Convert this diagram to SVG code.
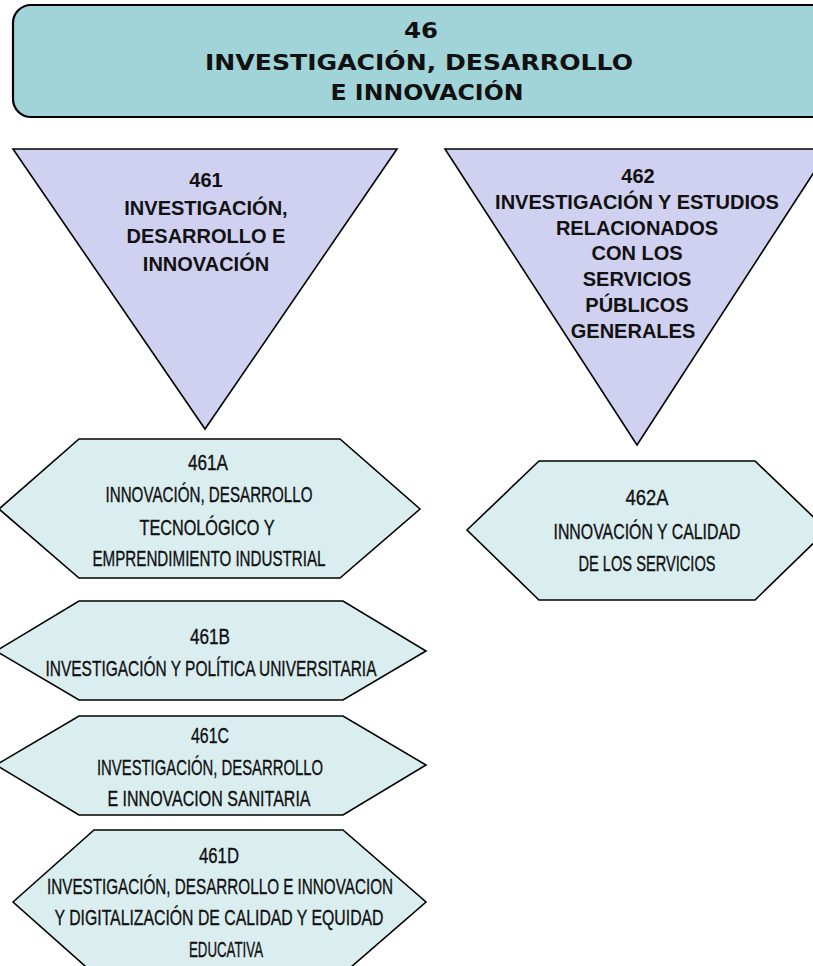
<svg xmlns="http://www.w3.org/2000/svg" width="813" height="966" viewBox="0 0 813 966">
<style>
.hdr{fill:#a0d4d8;stroke:#000;stroke-width:2.2}
.tri{fill:#d0d0f0;stroke:#000;stroke-width:1.6;stroke-linejoin:miter}
.hex{fill:#daeef0;stroke:#000;stroke-width:1.6}
.ht{font-family:"DejaVu Sans",sans-serif;font-weight:bold;font-size:22px;fill:#111;text-anchor:middle}
.tt{font-family:"Liberation Sans",Arial,sans-serif;font-weight:bold;font-size:20px;fill:#111;text-anchor:middle}
.xt{font-family:"Liberation Sans",Arial,sans-serif;font-size:21.5px;fill:#111;stroke:#111;stroke-width:0.35;text-anchor:middle}
</style>
<rect width="813" height="966" fill="#ffffff"/>
<g id="connectors"></g>
<g id="n46">
<rect class="hdr" x="13" y="5" width="840" height="112" rx="18"/>
<text class="ht" x="421" y="38" textLength="34" lengthAdjust="spacingAndGlyphs">46</text>
<text class="ht" x="419" y="70" textLength="428" lengthAdjust="spacingAndGlyphs">INVESTIGACIÓN, DESARROLLO</text>
<text class="ht" x="427" y="100" textLength="193" lengthAdjust="spacingAndGlyphs">E INNOVACIÓN</text>
</g>
<g id="n461">
<polygon class="tri" points="13,149 397,149 205,429"/>
<text class="tt" x="206" y="187">461</text>
<text class="tt" x="206" y="215">INVESTIGACIÓN,</text>
<text class="tt" x="206" y="243">DESARROLLO E</text>
<text class="tt" x="206" y="271">INNOVACIÓN</text>
</g>
<g id="n462">
<polygon class="tri" points="445,149 829,149 637,445"/>
<text class="tt" x="638" y="183">462</text>
<text class="tt" x="637" y="209">INVESTIGACIÓN Y ESTUDIOS</text>
<text class="tt" x="637" y="235">RELACIONADOS</text>
<text class="tt" x="637" y="260">CON LOS</text>
<text class="tt" x="637" y="286">SERVICIOS</text>
<text class="tt" x="637" y="312">PÚBLICOS</text>
<text class="tt" x="633" y="338">GENERALES</text>
</g>
<g id="n461A">
<polygon class="hex" points="-1,509 79,439 340,439 420,509 340,578 79,578"/>
<text class="xt" x="208" y="470" textLength="40" lengthAdjust="spacingAndGlyphs">461A</text>
<text class="xt" x="209" y="502" textLength="207" lengthAdjust="spacingAndGlyphs">INNOVACIÓN, DESARROLLO</text>
<text class="xt" x="207" y="535" textLength="135" lengthAdjust="spacingAndGlyphs">TECNOLÓGICO Y</text>
<text class="xt" x="209" y="566" textLength="233" lengthAdjust="spacingAndGlyphs">EMPRENDIMIENTO INDUSTRIAL</text>
</g>
<g id="n461B">
<polygon class="hex" points="-4,651 79,601 343,601 426,651 343,700 79,700"/>
<text class="xt" x="210" y="644" textLength="40" lengthAdjust="spacingAndGlyphs">461B</text>
<text class="xt" x="211" y="676" textLength="331" lengthAdjust="spacingAndGlyphs">INVESTIGACIÓN Y POLÍTICA UNIVERSITARIA</text>
</g>
<g id="n461C">
<polygon class="hex" points="-4,765 79,716 343,716 426,765 343,815 79,815"/>
<text class="xt" x="210" y="743" textLength="38" lengthAdjust="spacingAndGlyphs">461C</text>
<text class="xt" x="210" y="775" textLength="226" lengthAdjust="spacingAndGlyphs">INVESTIGACIÓN, DESARROLLO</text>
<text class="xt" x="209" y="806" textLength="203" lengthAdjust="spacingAndGlyphs">E INNOVACION SANITARIA</text>
</g>
<g id="n461D">
<polygon class="hex" points="13,902 94,830 343,830 426,902 343,974 94,974"/>
<text class="xt" x="219" y="863" textLength="40" lengthAdjust="spacingAndGlyphs">461D</text>
<text class="xt" x="220" y="894" textLength="346" lengthAdjust="spacingAndGlyphs">INVESTIGACIÓN, DESARROLLO E INNOVACION</text>
<text class="xt" x="219" y="925" textLength="329" lengthAdjust="spacingAndGlyphs">Y DIGITALIZACIÓN DE CALIDAD Y EQUIDAD</text>
<text class="xt" x="226" y="957" textLength="74" lengthAdjust="spacingAndGlyphs">EDUCATIVA</text>
</g>
<g id="n462A">
<polygon class="hex" points="467,530 539,461 755,461 827,530 755,600 539,600"/>
<text class="xt" x="647" y="505" textLength="43" lengthAdjust="spacingAndGlyphs">462A</text>
<text class="xt" x="647" y="539" textLength="187" lengthAdjust="spacingAndGlyphs">INNOVACIÓN Y CALIDAD</text>
<text class="xt" x="647" y="571" textLength="137" lengthAdjust="spacingAndGlyphs">DE LOS SERVICIOS</text>
</g>
</svg>
